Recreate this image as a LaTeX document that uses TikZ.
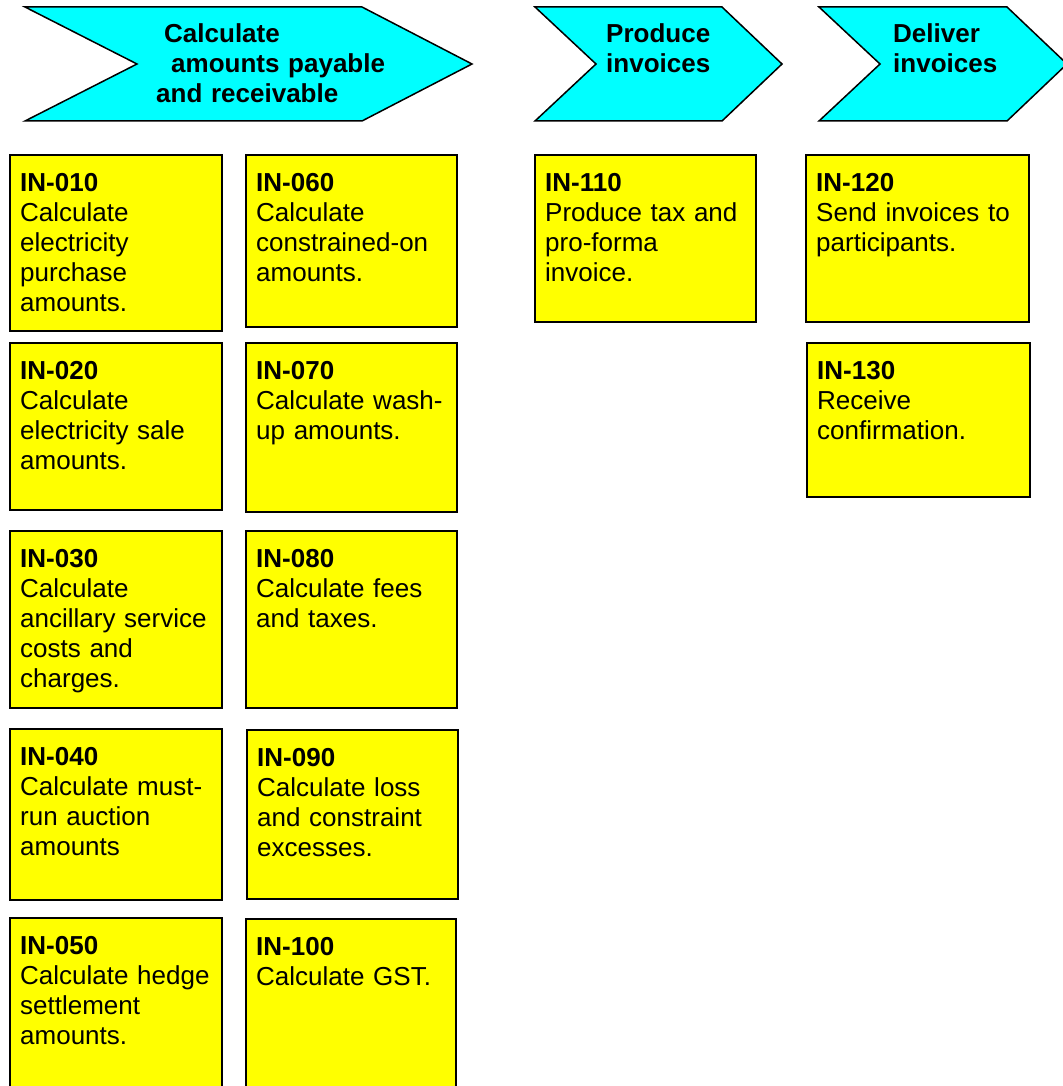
\documentclass[tikz,border=0pt]{standalone}
\usepackage{fontspec}
\setmainfont{Liberation Sans}
\definecolor{chevcyan}{RGB}{0,255,255}
\definecolor{boxyellow}{RGB}{255,255,0}
\tikzset{
  chev/.style={draw=black, line width=1.5pt, fill=chevcyan, line join=miter},
  chevtext/.style={anchor=base west, inner sep=0pt, align=left, text width=#1,
    font=\fontsize{26}{30}\selectfont\bfseries},
  ybox/.style 2 args={draw=black, line width=1.5pt, fill=boxyellow, anchor=north west,
    inner sep=0pt, outer sep=0pt, minimum width=#1, minimum height=#2},
  ytext/.style={anchor=base west, inner sep=0pt, align=left, text width=#1,
    font=\fontsize{26}{30}\selectfont},
}
\begin{document}
\begin{tikzpicture}[x=1pt,y=-1pt]
\useasboundingbox (0,0) rectangle (1062,1086);
\fill[white] (0,0) rectangle (1062,1086);

% chevrons
\draw[chev] (25,7) -- (362,7) -- (472,64) -- (362,121) -- (25,121) -- (137,64) -- cycle;
\draw[chev] (535,7) -- (722,7) -- (782,64) -- (722,121) -- (535,121) -- (596,64) -- cycle;
\draw[chev] (819,7) -- (1007,7) -- (1067,64) -- (1007,121) -- (819,121) -- (880,64) -- cycle;

\node[chevtext=260pt] (c1t) at (156,43) {\hspace*{8pt}Calculate\\\hspace*{15pt}amounts payable\\and receivable};
\node[chevtext=130pt] (c2t) at (606,43) {Produce\\invoices};
\node[chevtext=130pt] (c3t) at (893,43) {Deliver\\invoices};

% left column
\node[ybox={212pt}{176pt}] (b010) at (10,155) {};
\node[ytext=200pt] (t010) at ([xshift=10pt,yshift=-36pt]b010.north west) {\textbf{IN-010}\\Calculate\\electricity\\purchase\\amounts.};
\node[ybox={212pt}{167pt}] (b020) at (10,343) {};
\node[ytext=200pt] (t020) at ([xshift=10pt,yshift=-36pt]b020.north west) {\textbf{IN-020}\\Calculate\\electricity sale\\amounts.};
\node[ybox={212pt}{177pt}] (b030) at (10,531) {};
\node[ytext=200pt] (t030) at ([xshift=10pt,yshift=-36pt]b030.north west) {\textbf{IN-030}\\Calculate\\ancillary service\\costs and\\charges.};
\node[ybox={212pt}{171pt}] (b040) at (10,729) {};
\node[ytext=200pt] (t040) at ([xshift=10pt,yshift=-36pt]b040.north west) {\textbf{IN-040}\\Calculate must-\\run auction\\amounts};
\node[ybox={212pt}{190pt}] (b050) at (10,918) {};
\node[ytext=200pt] (t050) at ([xshift=10pt,yshift=-36pt]b050.north west) {\textbf{IN-050}\\Calculate hedge\\settlement\\amounts.};

% second column
\node[ybox={211pt}{172pt}] (b060) at (246,155) {};
\node[ytext=200pt] (t060) at ([xshift=10pt,yshift=-36pt]b060.north west) {\textbf{IN-060}\\Calculate\\constrained-on\\amounts.};
\node[ybox={211pt}{169pt}] (b070) at (246,343) {};
\node[ytext=200pt] (t070) at ([xshift=10pt,yshift=-36pt]b070.north west) {\textbf{IN-070}\\Calculate wash-\\up amounts.};
\node[ybox={211pt}{177pt}] (b080) at (246,531) {};
\node[ytext=200pt] (t080) at ([xshift=10pt,yshift=-36pt]b080.north west) {\textbf{IN-080}\\Calculate fees\\and taxes.};
\node[ybox={211pt}{169pt}] (b090) at (247,730) {};
\node[ytext=200pt] (t090) at ([xshift=10pt,yshift=-36pt]b090.north west) {\textbf{IN-090}\\Calculate loss\\and constraint\\excesses.};
\node[ybox={210pt}{190pt}] (b100) at (246,919) {};
\node[ytext=200pt] (t100) at ([xshift=10pt,yshift=-36pt]b100.north west) {\textbf{IN-100}\\Calculate GST.};

% produce invoices
\node[ybox={221pt}{167pt}] (b110) at (535,155) {};
\node[ytext=210pt] (t110) at ([xshift=10pt,yshift=-36pt]b110.north west) {\textbf{IN-110}\\Produce tax and\\pro-forma\\invoice.};

% deliver invoices
\node[ybox={223pt}{167pt}] (b120) at (806,155) {};
\node[ytext=210pt] (t120) at ([xshift=10pt,yshift=-36pt]b120.north west) {\textbf{IN-120}\\Send invoices to\\participants.};
\node[ybox={223pt}{154pt}] (b130) at (807,343) {};
\node[ytext=210pt] (t130) at ([xshift=10pt,yshift=-36pt]b130.north west) {\textbf{IN-130}\\Receive\\confirmation.};
\end{tikzpicture}
\end{document}
